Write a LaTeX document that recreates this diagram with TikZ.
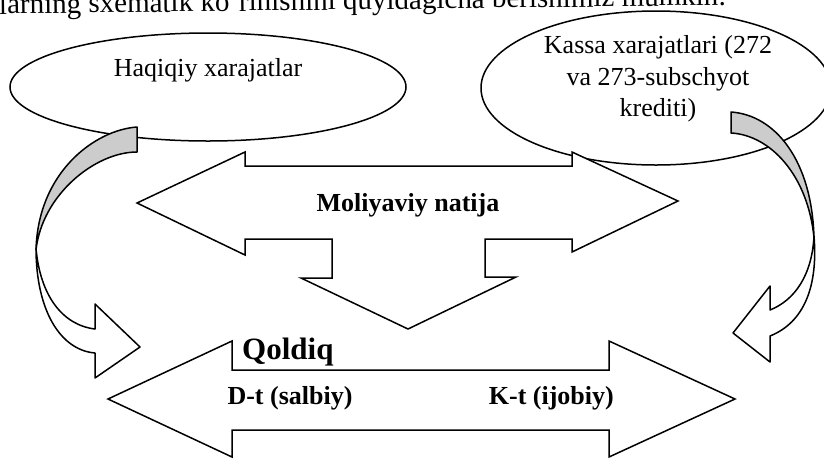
\documentclass[tikz,border=0pt]{standalone}
\usepackage{fontspec}
\setmainfont{Liberation Serif}
\usetikzlibrary{positioning,shapes.geometric}

\tikzset{
  bordo/.style={draw, line width=1.5pt},
  freccia/.style={bordo, fill=white},
  curva/.style={bordo, fill=white, line join=round},
  ombra/.style={bordo, fill=black!20, line join=round},
  ellisse/.style={bordo, ellipse, inner sep=0pt},
  normale/.style={font=\fontsize{26}{31.5}\selectfont, align=center, inner sep=0pt},
  grassetto/.style={font=\fontsize{26}{31}\selectfont\bfseries, inner sep=0pt},
}

\begin{document}
\begin{tikzpicture}[x=1pt, y=-1pt]
  \useasboundingbox (0,0) rectangle (824,459);

  % Riga di testo in alto
  \node[anchor=base west, inner sep=0pt, rotate=0.7, font=\fontsize{29}{34}\selectfont] (intro) at (-1,14)
    {larning sxematik ko‘rinishini quyidagicha berishimiz mumkin:};

  % Ellissi
  \node[ellisse, minimum width=396pt, minimum height=108pt] (haq) at (208,87) {};
  \node[ellisse, minimum width=350pt, minimum height=154pt] (kassa) at (656,88) {};
  \node[normale] (haqt) at (208,70) {Haqiqiy xarajatlar};
  \node[normale] (kassat) at (658,79) {Kassa xarajatlari (272\\va 273-subschyot\\krediti)};

  % Freccia a tre punte
  \draw[freccia] (137,203) -- (245,152) -- (245,166) -- (572,166) -- (572,152) -- (678,201)
    -- (572,252) -- (572,239) -- (485,239) -- (485,277) -- (516,277) -- (408,329)
    -- (301,278) -- (332,278) -- (332,239) -- (245,239) -- (245,255) -- cycle;
  \node[grassetto] (moliya) at (408,205) {Moliyaviy natija};

  % Freccia doppia in basso
  \draw[freccia] (108,399) -- (232,341) -- (232,370) -- (609,370) -- (609,341) -- (735,399)
    -- (609,457) -- (609,430) -- (232,430) -- (232,457) -- cycle;
  \node[grassetto, font=\fontsize{31}{36}\selectfont\bfseries, anchor=west] (qoldiq) at (242,352) {Qoldiq};
  \node[grassetto] (dt) at (290,398) {D-t (salbiy)};
  \node[grassetto, right=136pt of dt] (kt) {K-t (ijobiy)};

  % Freccia curva a sinistra
  \draw[ombra] (137,127) .. controls (95,130) and (38,172) .. (36,250)
    .. controls (42,195) and (95,152) .. (137,152) -- cycle;
  \draw[curva] (36,248) .. controls (40,295) and (62,325) .. (95,329) -- (95,304) -- (140,347)
    -- (95,378) -- (95,353) .. controls (60,350) and (36,310) .. (36,248) -- cycle;

  % Freccia curva a destra
  \draw[ombra] (731,112) .. controls (775,115) and (812,160) .. (814,238)
    .. controls (808,175) and (770,135) .. (731,133) -- cycle;
  \draw[curva] (814,236) .. controls (812,275) and (795,300) .. (770,310) -- (770,286) -- (733,333)
    -- (770,362) -- (770,336) .. controls (805,322) and (818,285) .. (814,236) -- cycle;
\end{tikzpicture}
\end{document}
